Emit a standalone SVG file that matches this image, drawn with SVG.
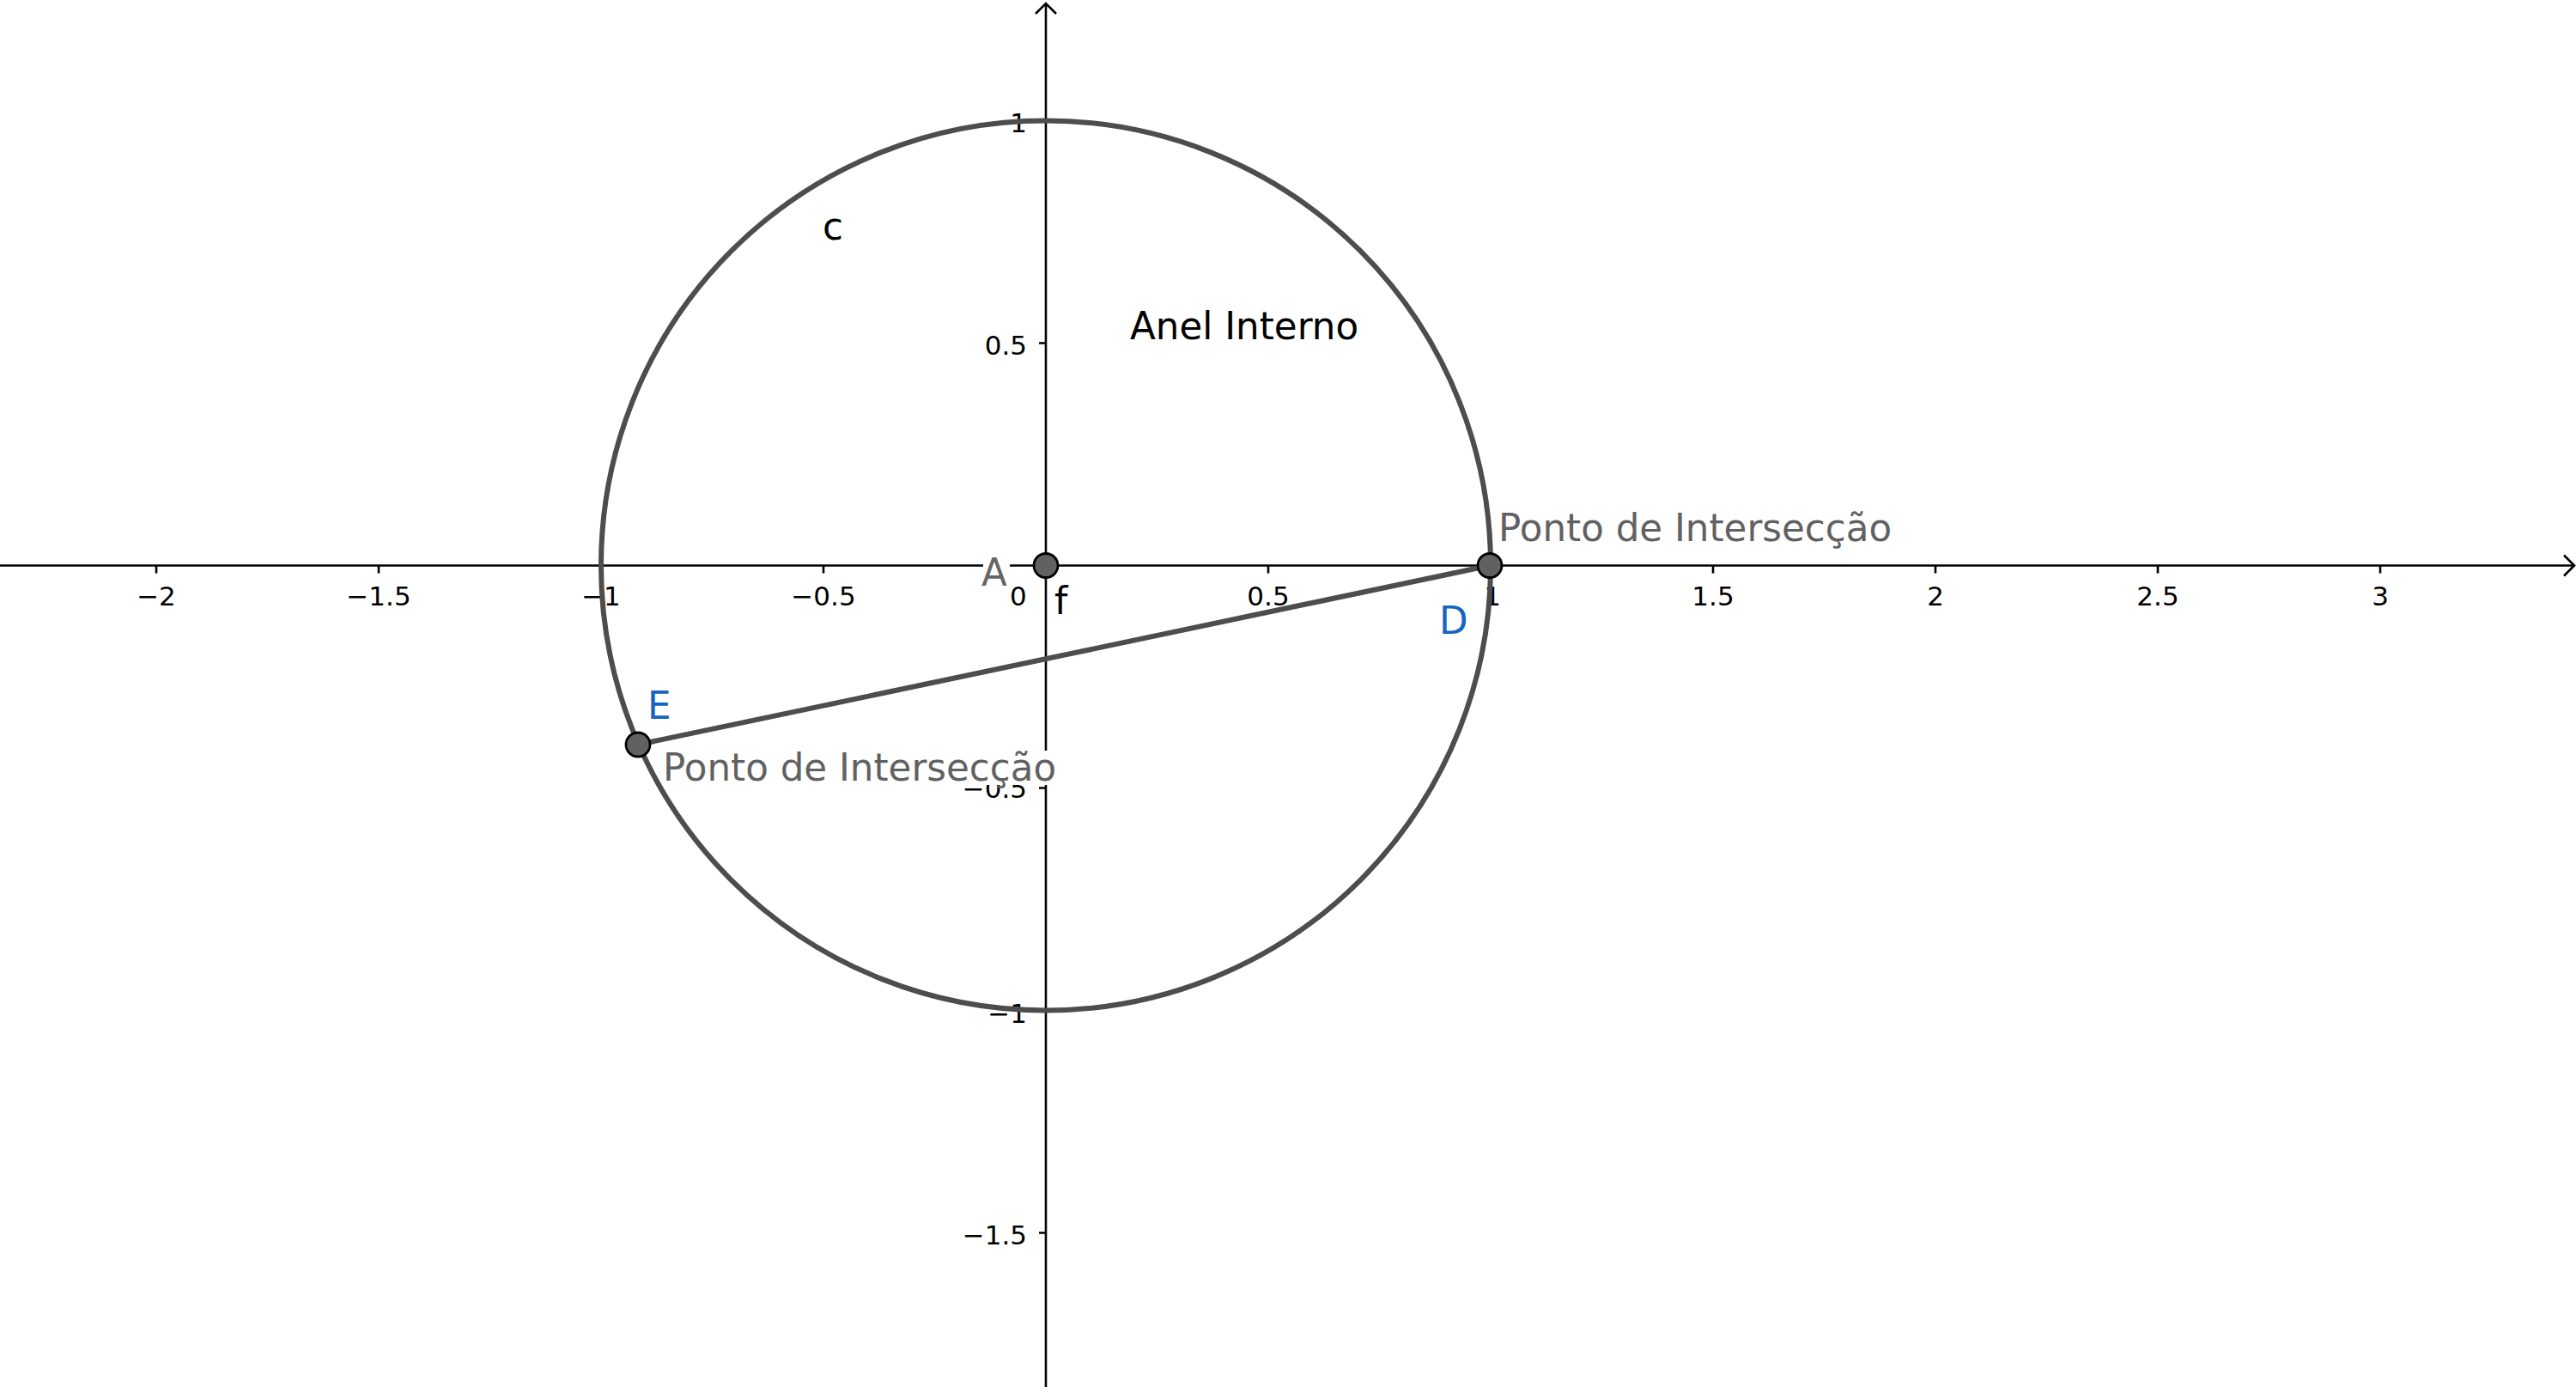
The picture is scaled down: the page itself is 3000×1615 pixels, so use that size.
<svg xmlns="http://www.w3.org/2000/svg" width="3000" height="1615" viewBox="0 0 3000 1615">
<style>
.axis{stroke:#000;stroke-width:2.6;fill:none}
.tick{font-family:"DejaVu Sans",sans-serif;font-size:31px;fill:#000}
.tx{text-anchor:middle}
.ty{text-anchor:end}
.lbl{font-family:"DejaVu Sans",sans-serif;font-size:43.6px}
.obj{stroke:#4d4d4d;stroke-width:6;fill:none}
.pt{fill:#616161;stroke:#000;stroke-width:2.8}
</style>
<rect width="3000" height="1615" fill="#fff"/>
<g id="axes">
<path class="axis" d="M0 658.5H2998M2986 646.5L2998 658.5L2986 670.5"/>
<path class="axis" d="M1218 1615V4M1206 16L1218 4L1230 16"/>
<path class="axis" d="M182 658.5v9M441 658.5v9M700 658.5v9M959 658.5v9M1477 658.5v9M1736 658.5v9M1995 658.5v9M2254 658.5v9M2513 658.5v9M2772 658.5v9"/>
<path class="axis" d="M1218 141h-8M1218 399.5h-8M1218 917.5h-8M1218 1176.5h-8M1218 1435.5h-8"/>
<g class="tick tx">
<text x="182" y="705">−2</text>
<text x="441" y="705">−1.5</text>
<text x="700" y="705">−1</text>
<text x="959" y="705">−0.5</text>
<text x="1477" y="705">0.5</text>
<text x="1738" y="705">1</text>
<text x="1995" y="705">1.5</text>
<text x="2254" y="705">2</text>
<text x="2513" y="705">2.5</text>
<text x="2772" y="705">3</text>
</g>
<g class="tick ty">
<text x="1196" y="154">1</text>
<text x="1196" y="412.5">0.5</text>
<text x="1196" y="929">−0.5</text>
<text x="1196" y="1191">−1</text>
<text x="1196" y="1449">−1.5</text>
</g>
<text class="tick" x="1176" y="705">0</text>
</g>
<g id="circle-c">
<circle class="obj" cx="1218" cy="658.5" r="518"/>
<text class="lbl" x="958" y="279" fill="#000">c</text>
</g>
<g id="connectors">
<line class="obj" x1="1735" y1="658.5" x2="743" y2="867"/>
</g>
<g id="label-f">
<text class="lbl" x="1228" y="715" fill="#000">f</text>
</g>
<g id="label-anel">
<text class="lbl" x="1316" y="395" fill="#000">Anel Interno</text>
</g>
<g id="point-A">
<rect x="1145" y="648" width="31" height="22" fill="#fff"/>
<text class="lbl" x="1143" y="682" fill="#666">A</text>
<circle class="pt" cx="1218" cy="658.5" r="14"/>
</g>
<g id="point-D">
<circle class="pt" cx="1735" cy="658.5" r="14"/>
<text class="lbl" x="1676" y="738" fill="#1565c0">D</text>
<text class="lbl" x="1745" y="630" fill="#616161">Ponto de Intersecção</text>
</g>
<g id="point-E">
<circle class="pt" cx="743" cy="867" r="14"/>
<text class="lbl" x="754" y="837" fill="#1565c0">E</text>
<rect x="772" y="874" width="462" height="40" fill="#fff"/>
<text class="lbl" x="772" y="909" fill="#616161">Ponto de Intersecção</text>
</g>
</svg>
